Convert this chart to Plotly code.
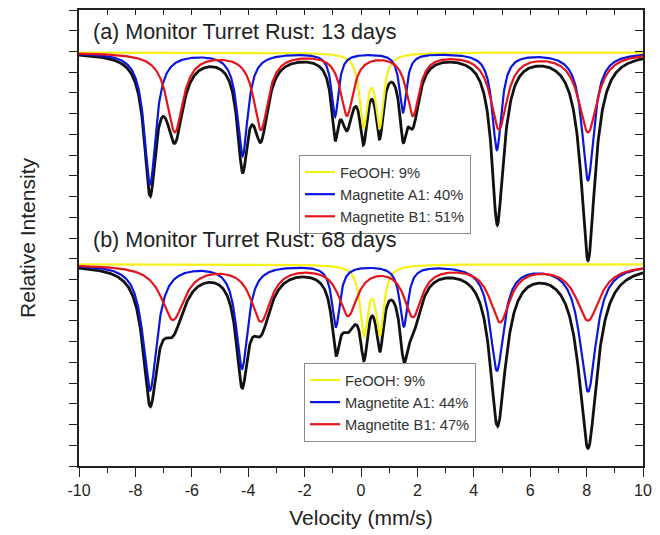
import numpy as np
import plotly.graph_objects as go

# ---------------- data ----------------
# velocity axis (mm/s)
velocity_range = [-10, 10]
x_tick_values = [-10, -8, -6, -4, -2, 0, 2, 4, 6, 8, 10]
x_tick_labels = ["-10", "-8", "-6", "-4", "-2", "0", "2", "4", "6", "8", "10"]

legend_names = ["FeOOH", "Magnetite A1", "Magnetite B1"]
area_13d = [9, 40, 51]   # %
area_68d = [9, 44, 47]   # %

# baselines (relative intensity, arbitrary units = one tick step)
baseline_13d = 19.95
baseline_68d = 9.73

# ---- (a) 13 days: Lorentzian line parameters (centre mm/s, depth, FWHM mm/s)
feooh_pos_13d = [0.09, 0.66]
feooh_depth_13d = [3.40, 3.40]
feooh_width_13d = [0.33, 0.33]

magA_pos_13d = [-7.48, -4.20, -0.92, 1.49, 4.82, 8.05]
magA_depth_13d = [6.35, 4.95, 3.05, 2.85, 4.65, 6.15]
magA_width_13d = [0.50, 0.45, 0.30, 0.30, 0.40, 0.52]

magB_pos_13d = [-6.60, -3.55, -0.50, 1.84, 4.89, 8.05]
magB_depth_13d = [3.80, 3.65, 2.95, 2.95, 3.62, 3.80]
magB_width_13d = [0.70, 0.62, 0.55, 0.55, 0.70, 0.80]

# ---- (b) 68 days
feooh_pos_68d = [0.11, 0.67]
feooh_depth_68d = [3.25, 3.20]
feooh_width_68d = [0.33, 0.33]

magA_pos_68d = [-7.48, -4.22, -0.89, 1.52, 4.82, 8.05]
magA_depth_68d = [6.05, 4.98, 2.95, 2.92, 5.05, 6.10]
magA_width_68d = [0.60, 0.50, 0.34, 0.35, 0.58, 0.70]

magB_pos_68d = [-6.67, -3.55, -0.46, 1.84, 4.93, 8.05]
magB_depth_68d = [2.62, 2.65, 2.35, 2.40, 2.68, 2.65]
magB_width_68d = [1.00, 0.85, 0.80, 0.75, 0.85, 1.00]

colors = ["#f4f018", "#0b16dc", "#e5141c"]
FONT = "Liberation Sans, Arial, sans-serif"

# evaluation grid for the fitted Lorentzian curves
v = np.linspace(velocity_range[0], velocity_range[1], 1201)


def absorption(pos, depth, width):
    out = np.zeros_like(v)
    for c, d, w in zip(pos, depth, width):
        out += d / (1.0 + ((v - c) / (w / 2.0)) ** 2)
    return out


fig = go.Figure()

panels = [
    dict(base=baseline_13d, legend="legend", xa="x", ya="y", areas=area_13d,
         comps=[(feooh_pos_13d, feooh_depth_13d, feooh_width_13d),
                (magA_pos_13d, magA_depth_13d, magA_width_13d),
                (magB_pos_13d, magB_depth_13d, magB_width_13d)]),
    dict(base=baseline_68d, legend="legend2", xa="x2", ya="y2", areas=area_68d,
         comps=[(feooh_pos_68d, feooh_depth_68d, feooh_width_68d),
                (magA_pos_68d, magA_depth_68d, magA_width_68d),
                (magB_pos_68d, magB_depth_68d, magB_width_68d)]),
]

for p in panels:
    absorbs = [absorption(*c) for c in p["comps"]]
    total = p["base"] - sum(absorbs)
    fig.add_trace(go.Scatter(x=v, y=total, mode="lines", showlegend=False,
                             line=dict(color="#111111", width=2.8),
                             xaxis=p["xa"], yaxis=p["ya"], hoverinfo="skip"))
    for name, area, col, ab in zip(legend_names, p["areas"], colors, absorbs):
        fig.add_trace(go.Scatter(x=v, y=p["base"] - ab, mode="lines",
                                 name=f"{name}: {area}%", legend=p["legend"],
                                 line=dict(color=col, width=2.2),
                                 xaxis=p["xa"], yaxis=p["ya"]))

axis_common = dict(showgrid=False, zeroline=False, automargin=False)
fig.update_layout(
    width=660, height=535,
    margin=dict(l=79, r=17, t=10, b=69),
    paper_bgcolor="white", plot_bgcolor="white",
    font=dict(family=FONT, color="#222222"),
    xaxis=dict(range=velocity_range, tickvals=x_tick_values, ticktext=x_tick_labels,
               ticks="outside", ticklen=9, tickwidth=1.3, tickcolor="#222",
               minor=dict(dtick=1, ticks="outside", ticklen=5, tickwidth=1.3, tickcolor="#222"),
               showline=True, linecolor="#222", linewidth=1.5, mirror=True,
               tickfont=dict(size=16, family=FONT, color="#222"),
               title=dict(text="Velocity (mm/s)", font=dict(size=21, family=FONT, color="#222"),
                          standoff=12),
               **axis_common),
    xaxis2=dict(range=velocity_range, overlaying="x", side="top", anchor="y2",
                dtick=1, tick0=0, ticks="inside", ticklen=5, tickwidth=1.3, tickcolor="#222",
                showticklabels=False, showline=True, linecolor="#222", linewidth=1.5,
                **axis_common),
    yaxis=dict(range=[0, 22], dtick=1, tick0=0, ticks="outside", ticklen=8, tickwidth=1.3,
               tickcolor="#222", showticklabels=False,
               showline=True, linecolor="#222", linewidth=1.5, mirror=True,
               title=dict(text="Relative Intensity", font=dict(size=21, family=FONT, color="#222"),
                          standoff=28),
               **axis_common),
    yaxis2=dict(range=[0, 22], overlaying="y", side="right", anchor="x2",
                dtick=1, tick0=0, ticks="inside", ticklen=8, tickwidth=1.3, tickcolor="#222",
                showticklabels=False, showline=True, linecolor="#222", linewidth=1.5,
                **axis_common),
    legend=dict(x=0.39, y=0.682, xanchor="left", yanchor="top", bgcolor="white",
                bordercolor="#8a8a8a", borderwidth=1, tracegroupgap=0,
                font=dict(size=14.7, family=FONT, color="#333")),
    legend2=dict(x=0.399, y=0.226, xanchor="left", yanchor="top", bgcolor="white",
                 bordercolor="#8a8a8a", borderwidth=1, tracegroupgap=0,
                 font=dict(size=14.7, family=FONT, color="#333")),
    annotations=[
        dict(text="(a) Monitor Turret Rust: 13 days", xref="x", yref="y", x=-9.57, y=20.92,
             xanchor="left", yanchor="middle", showarrow=False,
             font=dict(size=21.5, family=FONT, color="#222")),
        dict(text="(b) Monitor Turret Rust: 68 days", xref="x", yref="y", x=-9.57, y=10.92,
             xanchor="left", yanchor="middle", showarrow=False,
             font=dict(size=21.5, family=FONT, color="#222")),
    ],
)

fig.write_html("out.html", config={"displayModeBar": False},
               post_script="document.body.style.margin='0';document.body.style.padding='0';")
